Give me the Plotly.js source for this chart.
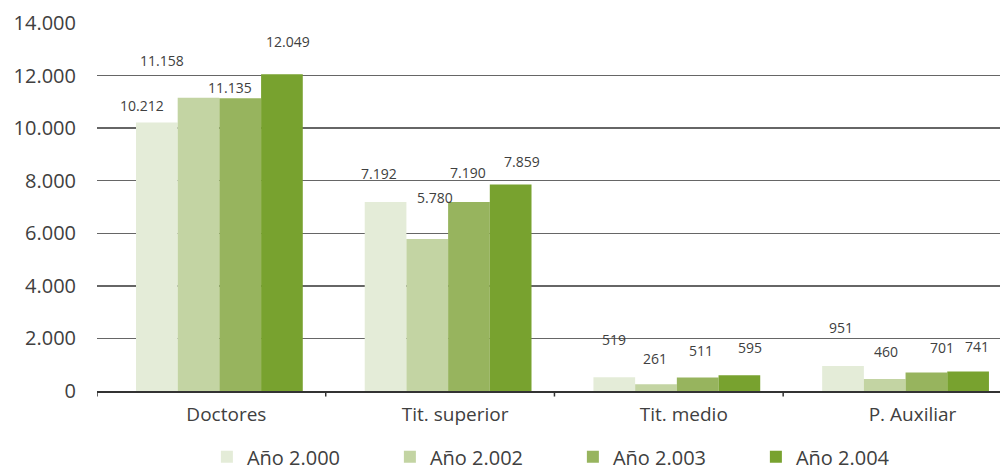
<!DOCTYPE html>
<html>
<head>
<meta charset="utf-8">
<script src="https://cdn.plot.ly/plotly-3.0.1.min.js"></script>
<style>html,body{margin:0;padding:0;overflow:hidden;background:#fff}#chart{width:1000px;height:470px}</style>
</head>
<body>
<div id="chart"></div>
<script>
// ---- data ----
const categories = ["Doctores", "Tit. superior", "Tit. medio", "P. Auxiliar"];
const seriesNames = ["Año 2.000", "Año 2.002", "Año 2.003", "Año 2.004"];
const ano2000 = [10212, 7192, 519, 951];
const ano2002 = [11158, 5780, 261, 460];
const ano2003 = [11135, 7190, 511, 701];
const ano2004 = [12049, 7859, 595, 741];
const yTickVals = [0, 2000, 4000, 6000, 8000, 10000, 12000, 14000];
const yTickText = ["0", "2.000", "4.000", "6.000", "8.000", "10.000", "12.000", "14.000"];

// ---- styles ----
const series = [ano2000, ano2002, ano2003, ano2004];
const colors = ["#E4ECD8", "#C3D4A3", "#97B45E", "#78A22F"];
const barWidth = 0.1823;
const groupStart = -0.3295;
// label pixel offsets [dx, dy] from bar top centre (per category, per series)
const labelOffsets = [
  [[-15, -17], [-37, -37], [-10, -11], [6, -33]],
  [[-7, -28], [8, -42], [-1, -30], [11, -23]],
  [[0, -38], [-1, -26], [3, -27], [11, -28]],
  [[-2, -39], [1, -27], [16, -25], [9, -25]]
];
const fontFam = "'Open Sans', sans-serif";
const txtColor = "#404040";

function fmt(v) {
  return String(v).replace(/\B(?=(\d{3})+(?!\d))/g, ".");
}

const xIdx = categories.map((c, i) => i);
const traces = series.map((vals, s) => ({
  type: "bar",
  name: seriesNames[s],
  x: xIdx,
  y: vals,
  width: barWidth,
  offset: groupStart + s * barWidth,
  marker: { color: colors[s], line: { width: 0 } },
  hoverinfo: "skip"
}));

const annotations = [];
series.forEach((vals, s) => {
  vals.forEach((v, c) => {
    const off = labelOffsets[c][s];
    annotations.push({
      x: c + groupStart + s * barWidth + barWidth / 2,
      y: v,
      xref: "x", yref: "y",
      text: fmt(v),
      showarrow: false,
      xanchor: "center", yanchor: "middle",
      xshift: off[0], yshift: -off[1],
      font: { family: fontFam, size: 14, color: txtColor }
    });
  });
});

const layout = {
  width: 1000, height: 470,
  margin: { l: 97, r: 0, t: 23, b: 79, autoexpand: false },
  paper_bgcolor: "#fff", plot_bgcolor: "#fff",
  barmode: "overlay",
  showlegend: true,
  legend: {
    orientation: "h", x: 0.527, xanchor: "center", y: -0.126, yanchor: "top",
    font: { family: fontFam, size: 20, color: txtColor },
    entrywidth: 138, entrywidthmode: "pixels",
    traceorder: "normal"
  },
  xaxis: {
    type: "linear",
    range: [-0.5, 3.448],
    tickvals: xIdx, ticktext: categories,
    showgrid: false, zeroline: false,
    showline: true, linecolor: "#333", linewidth: 1.5,
    ticks: "", ticklabelshift: 15, ticklabelstandoff: 6,
    tickfont: { family: fontFam, size: 19, color: txtColor }
  },
  yaxis: {
    range: [0, 14000],
    tickvals: yTickVals, ticktext: yTickText,
    showgrid: true, gridcolor: "#666", gridwidth: 1.3,
    zeroline: false, showline: false,
    ticks: "", ticklabelstandoff: 20,
    tickfont: { family: fontFam, size: 20, color: txtColor }
  },
  shapes: [-0.5, 0.5, 1.5, 2.5].map(b => ({
    type: "line", xref: "x", yref: "paper", x0: b, x1: b, y0: 0, y1: -0.015,
    line: { color: "#333", width: 1.5 }
  })),
  annotations: annotations
};

Plotly.newPlot("chart", traces, layout, { displayModeBar: false, staticPlot: true });
</script>
</body>
</html>
